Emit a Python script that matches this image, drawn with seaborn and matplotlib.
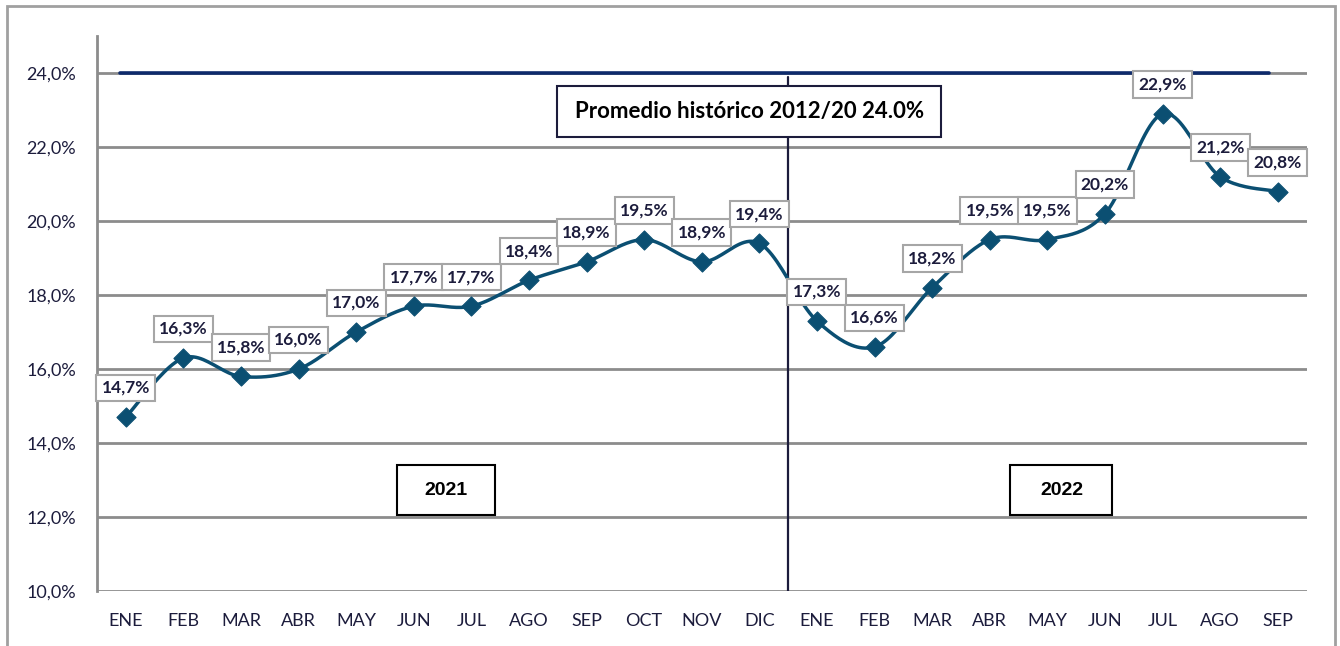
import matplotlib
matplotlib.use("Agg")
import matplotlib.pyplot as plt
from matplotlib.patches import Rectangle
import numpy as np
import pandas as pd
import seaborn as sns

# ── data ──────────────────────────────────────────────────────────────────
months = ["ENE", "FEB", "MAR", "ABR", "MAY", "JUN", "JUL", "AGO", "SEP", "OCT", "NOV", "DIC",
          "ENE", "FEB", "MAR", "ABR", "MAY", "JUN", "JUL", "AGO", "SEP"]
values = [14.7, 16.3, 15.8, 16.0, 17.0, 17.7, 17.7, 18.4, 18.9, 19.5, 18.9, 19.4,
          17.3, 16.6, 18.2, 19.5, 19.5, 20.2, 22.9, 21.2, 20.8]
historic_avg = 24.0
years = ["2021", "2022"]

LINE = "#0b4f72"
NAVY = "#1c1c3c"
GRID = "#8c8c8c"

sns.set_style("white")
plt.rcParams["font.family"] = ["Lato", "DejaVu Sans"]


def smooth(xs, ys, n=24):
    # Catmull-Rom style smoothing, like a spreadsheet "smoothed line"
    xs, ys = np.asarray(xs, float), np.asarray(ys, float)
    px = np.concatenate([[xs[0]], xs, [xs[-1]]])
    py = np.concatenate([[ys[0]], ys, [ys[-1]]])
    out_x, out_y = [], []
    t = np.linspace(0, 1, n)
    for i in range(1, len(px) - 2):
        p0 = np.array([px[i], py[i]])
        p3 = np.array([px[i + 1], py[i + 1]])
        c1 = p0 + (p3 - np.array([px[i - 1], py[i - 1]])) / 6
        c2 = p3 - (np.array([px[i + 2], py[i + 2]]) - p0) / 6
        b = ((1 - t) ** 3)[:, None] * p0 + (3 * (1 - t) ** 2 * t)[:, None] * c1 \
            + (3 * (1 - t) * t ** 2)[:, None] * c2 + (t ** 3)[:, None] * p3
        out_x.extend(b[:, 0])
        out_y.extend(b[:, 1])
    return np.array(out_x), np.array(out_y)


idx = np.arange(len(values))
df = pd.DataFrame({"x": idx, "y": values})
sx, sy = smooth(idx, values)
curve = pd.DataFrame({"x": sx, "y": sy})

fig = plt.figure(figsize=(13.4, 6.46), dpi=100)
ax = fig.add_axes([0.0724, 0.0851, 0.9026, 0.8589])

# grid
for g in range(10, 25, 2):
    ax.axhline(g, color=GRID, lw=2, zorder=0)

# historic average + year divider
ax.plot([-0.1, 19.85], [historic_avg, historic_avg], color="#0d2a6b", lw=2.6, zorder=2)
ax.plot([11.5, 11.5], [10, historic_avg - 0.1], color=NAVY, lw=1.6, zorder=2)

sns.lineplot(data=curve, x="x", y="y", sort=False, color=LINE, lw=2.5, ax=ax, zorder=3)
sns.scatterplot(data=df, x="x", y="y", marker="D", s=95, color=LINE, edgecolor=LINE,
                ax=ax, zorder=4)

for xi, v in zip(idx, values):
    ax.annotate(f"{v:.1f}%".replace(".", ","), (xi, v), xytext=(0, 21),
                textcoords="offset points", ha="center", va="center",
                fontsize=12.5, fontweight="bold", color=NAVY, zorder=5,
                bbox=dict(boxstyle="square,pad=0.3", fc="white", ec="#a6a6a6", lw=1.5))

# historic average label
ax.add_patch(Rectangle((7.49, 22.27), 6.67, 1.38, fc="white", ec=NAVY, lw=1.5, zorder=5))
ax.text(10.83, 22.96, "Promedio histórico 2012/20 24.0%", ha="center", va="center",
        fontsize=16, fontweight="bold", color="black", zorder=6)

# year boxes
for (x0, x1), yr in zip([(4.71, 6.41), (15.36, 17.13)], years):
    ax.add_patch(Rectangle((x0, 12.05), x1 - x0, 1.36, fc="white", ec="black", lw=1.5, zorder=5))
    ax.text((x0 + x1) / 2, 12.73, yr, ha="center", va="center", fontsize=14,
            fontweight="bold", family="Liberation Sans", color="black", zorder=6)

ax.set_xlim(-0.5, len(values) - 0.5)
ax.set_ylim(10, 25)
ax.set_yticks(range(10, 25, 2))
ax.set_yticklabels([f"{g:.1f}%".replace(".", ",") for g in range(10, 25, 2)])
ax.set_xticks(idx)
ax.set_xticklabels(months)
ax.set_xticks(np.arange(-0.5, len(values)), minor=True)
ax.tick_params(axis="x", which="major", length=0, pad=16, labelsize=13, colors=NAVY)
ax.tick_params(axis="x", which="minor", length=6, width=2, color=GRID, direction="out")
ax.tick_params(axis="y", length=6, width=2, color=GRID, labelsize=13, labelcolor=NAVY, pad=9)
ax.set_xlabel("")
ax.set_ylabel("")
for side in ["top", "right", "bottom"]:
    ax.spines[side].set_visible(False)
ax.spines["left"].set_color(GRID)
ax.spines["left"].set_linewidth(2)

# outer frame
fig.patches.append(Rectangle((0.005, -0.02), 0.991, 1.01, transform=fig.transFigure,
                             fill=False, ec="#a0a0a0", lw=2))

fig.savefig("out.png", dpi=100)
